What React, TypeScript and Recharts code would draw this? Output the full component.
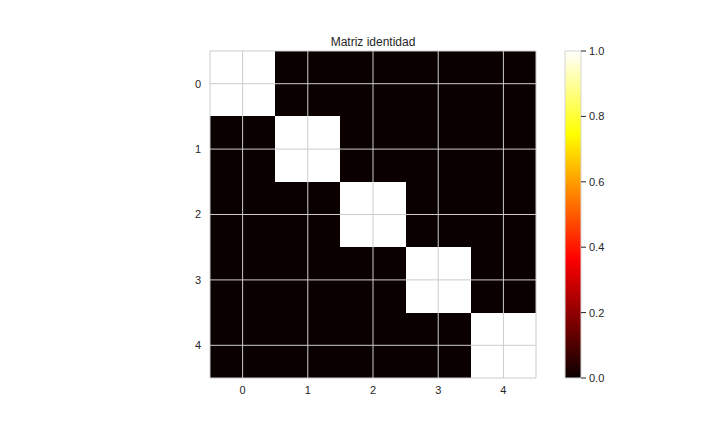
import {
  ComposedChart,
  ReferenceArea,
  ReferenceLine,
  XAxis,
  YAxis,
} from "recharts";

const TITLE = "Matriz identidad";
const ROWS = [0, 1, 2, 3, 4];
const COLS = [0, 1, 2, 3, 4];
// identity matrix values, row by row
const MATRIX = [
  [1, 0, 0, 0, 0],
  [0, 1, 0, 0, 0],
  [0, 0, 1, 0, 0],
  [0, 0, 0, 1, 0],
  [0, 0, 0, 0, 1],
];
const CBAR_TICKS = [0, 0.2, 0.4, 0.6, 0.8, 1.0];

// the colorbar shares the x scale, sitting to the right of the matrix
const X_MAX = 5.19;
const CB_LEFT = 4.945;

const FONT = "'Liberation Sans', Arial, sans-serif";
const TEXT = "#262626";
const GRID = "#cccccc";

// matplotlib "hot" colormap
function hot(v: number) {
  const r = Math.min(1, 0.0416 + (v / 0.365) * (1 - 0.0416));
  const g = Math.max(0, Math.min(1, (v - 0.365) / (0.746 - 0.365)));
  const b = Math.max(0, Math.min(1, (v - 0.746) / (1 - 0.746)));
  const h = (x: number) => Math.round(x * 255).toString(16).padStart(2, "0");
  return `#${h(r)}${h(g)}${h(b)}`;
}

const tickStyle = { fill: TEXT, fontSize: 11, fontFamily: FONT };

function Heatmap() {
  return (
    <ComposedChart width={720} height={432} margin={{ top: 51, right: 109, bottom: 24, left: 180 }}>
      <XAxis
        type="number"
        dataKey="x"
        domain={[-0.5, X_MAX]}
        ticks={COLS}
        allowDataOverflow
        axisLine={false}
        tickLine={false}
        tick={tickStyle}
        height={30}
      />
      <YAxis
        yAxisId="m"
        type="number"
        dataKey="y"
        domain={[-0.5, 4.5]}
        ticks={ROWS}
        reversed
        allowDataOverflow
        axisLine={false}
        tickLine={false}
        tick={tickStyle}
        tickSize={6}
        tickMargin={3}
        width={30}
      />
      <YAxis
        yAxisId="cb"
        type="number"
        dataKey="v"
        orientation="right"
        domain={[0, 1]}
        ticks={CBAR_TICKS}
        allowDataOverflow
        tickFormatter={(v: number) => v.toFixed(1)}
        axisLine={false}
        tickLine={{ stroke: TEXT }}
        tickSize={5}
        tickMargin={3}
        tick={tickStyle}
        width={30}
      />
      {ROWS.map((r) =>
        COLS.map((c) => (
          <ReferenceArea
            key={`${r}-${c}`}
            yAxisId="m"
            x1={c - 0.5}
            x2={c + 0.5}
            y1={r - 0.5}
            y2={r + 0.5}
            fill={hot(MATRIX[r][c])}
            fillOpacity={1}
            stroke="none"
            shapeRendering="crispEdges"
          />
        ))
      )}
      {COLS.map((c) => (
        <ReferenceLine key={`gx${c}`} yAxisId="m" x={c} stroke={GRID} strokeWidth={1} />
      ))}
      {ROWS.map((r) => (
        <ReferenceLine
          key={`gy${r}`}
          yAxisId="m"
          segment={[
            { x: -0.5, y: r },
            { x: 4.5, y: r },
          ]}
          stroke={GRID}
          strokeWidth={1}
        />
      ))}
      <ReferenceArea yAxisId="m" x1={-0.5} x2={4.5} y1={-0.5} y2={4.5} fill="none" stroke={GRID} strokeWidth={1} />
      <ReferenceArea
        yAxisId="cb"
        x1={CB_LEFT}
        x2={X_MAX}
        y1={0}
        y2={1}
        fill="url(#hotGrad)"
        fillOpacity={1}
        stroke="#d5d5d5"
        strokeWidth={1}
      />
    </ComposedChart>
  );
}

export default function App() {
  return (
    <div style={{ position: "absolute", left: 0, top: 0, width: 720, height: 432, background: "#fff", fontFamily: FONT }}>
      <svg width={0} height={0} style={{ position: "absolute" }}>
        <defs>
          <linearGradient id="hotGrad" x1="0" y1="0" x2="0" y2="1">
            <stop offset="0" stopColor="#ffffff" />
            <stop offset="0.254" stopColor="#ffff00" />
            <stop offset="0.635" stopColor="#ff0000" />
            <stop offset="1" stopColor="#0b0000" />
          </linearGradient>
        </defs>
      </svg>
      <div
        style={{
          position: "absolute",
          left: 210,
          width: 326,
          top: 35,
          textAlign: "center",
          fontSize: 12,
          color: TEXT,
        }}
      >
        {TITLE}
      </div>
      <div style={{ position: "absolute", left: 0, top: 0 }}>
        <Heatmap />
      </div>
    </div>
  );
}
